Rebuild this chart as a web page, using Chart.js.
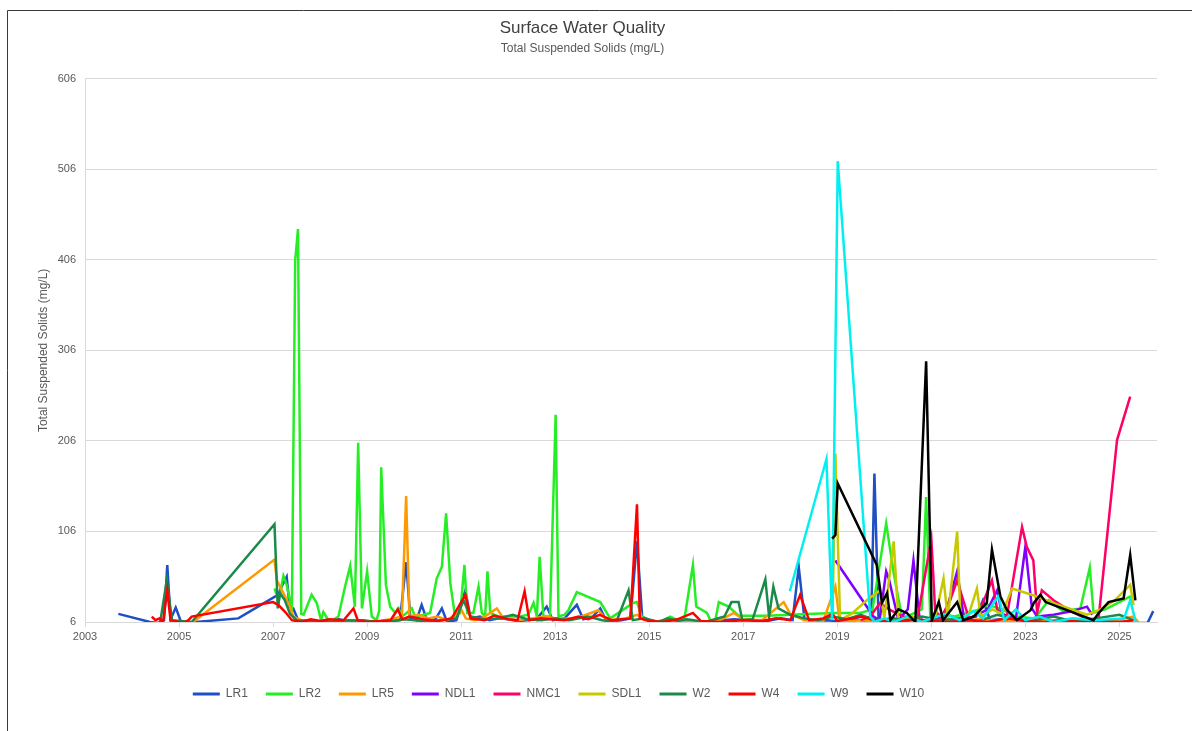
<!DOCTYPE html>
<html>
<head>
<meta charset="utf-8">
<script src="https://cdn.jsdelivr.net/npm/chart.js@4.4.1/dist/chart.umd.min.js"></script>
<style>
  html, body { margin: 0; padding: 0; background: #ffffff; }
  #wrap { width: 1192px; height: 731px; position: relative; }
</style>
</head>
<body>
<div id="wrap"><canvas id="c" width="1192" height="731"></canvas></div>
<script>
// Monitoring sites and their line colours
const seriesNames  = ['LR1', 'LR2', 'LR5', 'NDL1', 'NMC1', 'SDL1', 'W2', 'W4', 'W9', 'W10'];
const seriesColors = ['#1f4fc4', '#25ee25', '#ff9900', '#8000ff', '#ff0066', '#c8c800', '#1a8a4a', '#ff0000', '#00f0f0', '#000000'];

// Axis ticks
const yTicks = [6, 106, 206, 306, 406, 506, 606];
const xTickYears = [2003, 2005, 2007, 2009, 2011, 2013, 2015, 2017, 2019, 2021, 2023, 2025];
const xEnd = 2025.8;

// Samples per site: [decimal year, TSS mg/L]
const lr1 = [[2003.71,15],[2004.38,6],[2004.55,5],[2004.68,8],[2004.75,69],[2004.82,9],[2004.93,22],[2005.05,5],[2005.35,6],[2006.26,10],[2007.04,34],[2007.11,36],[2007.18,45],[2007.29,56],[2007.35,23],[2007.43,21],[2007.55,6],[2007.75,8],[2007.95,6],[2008.15,7],[2008.4,9],[2008.65,6],[2008.9,8],[2009.15,6],[2009.45,7],[2009.7,8],[2009.83,72],[2009.92,10],[2010.05,8],[2010.16,25],[2010.28,7],[2010.45,9],[2010.59,21],[2010.7,6],[2010.9,8],[2011.09,41],[2011.2,10],[2011.4,12],[2011.6,8],[2011.8,10],[2012.0,9],[2012.2,7],[2012.4,8],[2012.6,9],[2012.82,23],[2012.95,8],[2013.2,10],[2013.46,25],[2013.6,9],[2013.8,12],[2013.96,21],[2014.1,6],[2014.4,8],[2014.6,10],[2014.74,95],[2014.85,12],[2015.0,8],[2015.2,6],[2015.45,8],[2015.7,7],[2016.0,6],[2016.4,7],[2016.8,9],[2017.2,8],[2017.5,7],[2017.8,10],[2018.05,8],[2018.18,67],[2018.3,10],[2018.5,7],[2018.8,8],[2019.1,6],[2019.4,9],[2019.72,6],[2019.79,170],[2019.88,6],[2020.1,8],[2020.4,5],[2020.8,7],[2021.2,6],[2021.6,9],[2021.95,12],[2022.1,30],[2022.25,8],[2022.7,10],[2023.2,7],[2023.8,8],[2024.3,6],[2024.8,7],[2025.3,5],[2025.6,5],[2025.72,18]];

const lr2 = [[2007.03,43],[2007.12,30],[2007.22,57],[2007.29,47],[2007.4,20],[2007.47,405],[2007.53,440],[2007.6,15],[2007.65,14],[2007.82,36],[2007.93,27],[2008.02,8],[2008.07,17],[2008.2,6],[2008.39,12],[2008.53,45],[2008.64,68],[2008.74,23],[2008.81,204],[2008.89,21],[2009.0,62],[2009.1,12],[2009.2,8],[2009.26,19],[2009.3,177],[2009.4,47],[2009.49,23],[2009.6,16],[2009.67,21],[2009.74,12],[2009.84,16],[2009.95,21],[2010.02,12],[2010.2,14],[2010.34,16],[2010.48,54],[2010.59,67],[2010.68,126],[2010.77,49],[2010.87,12],[2010.98,16],[2011.07,69],[2011.13,16],[2011.26,16],[2011.37,45],[2011.44,16],[2011.51,12],[2011.56,62],[2011.62,16],[2011.8,12],[2012.04,12],[2012.25,12],[2012.43,14],[2012.54,27],[2012.61,12],[2012.67,78],[2012.75,12],[2012.89,12],[2013.01,235],[2013.07,12],[2013.2,14],[2013.28,19],[2013.46,39],[2013.96,28],[2014.17,10],[2014.66,27],[2014.74,28],[2014.84,12],[2015.09,6],[2015.3,8],[2015.45,12],[2015.6,8],[2015.75,10],[2015.93,69],[2016.0,23],[2016.23,16],[2016.3,8],[2016.4,6],[2016.48,28],[2016.69,23],[2016.9,13],[2017.5,13],[2018.0,14],[2018.5,15],[2018.92,16],[2019.2,16],[2019.49,16],[2019.75,20],[2020.04,115],[2020.2,60],[2020.38,10],[2020.6,15],[2020.8,20],[2020.89,144],[2020.98,8],[2021.2,15],[2021.5,12],[2021.97,19],[2022.2,25],[2022.5,20],[2022.8,12],[2023.2,10],[2023.5,30],[2023.8,18],[2024.17,21],[2024.37,66],[2024.45,16],[2024.7,20],[2025.0,28],[2025.22,34],[2025.3,25]];

const lr5 = [[2005.3,6],[2007.03,75],[2007.08,52],[2007.2,40],[2007.36,23],[2007.43,12],[2007.6,8],[2007.9,7],[2008.3,6],[2008.7,8],[2009.1,6],[2009.5,9],[2009.74,12],[2009.83,145],[2009.9,12],[2010.1,14],[2010.3,10],[2010.5,12],[2010.7,8],[2011.01,19],[2011.1,10],[2011.3,8],[2011.5,12],[2011.76,21],[2011.9,10],[2012.2,8],[2012.5,10],[2012.8,12],[2013.1,9],[2013.5,11],[2013.92,19],[2014.1,8],[2014.5,10],[2014.74,14],[2014.9,9],[2015.2,6],[2015.6,7],[2016.0,6],[2016.5,8],[2016.8,16],[2017.0,9],[2017.4,8],[2017.86,28],[2018.0,15],[2018.3,8],[2018.7,7],[2018.96,45],[2019.05,6],[2019.5,8],[2020.0,6],[2020.5,7],[2021.0,8],[2021.5,6],[2022.0,9],[2022.5,7],[2023.0,6],[2023.5,8],[2024.0,7],[2024.5,6],[2025.0,9],[2025.3,12],[2025.4,6]];

const ndl1 = [[2018.96,74],[2019.77,12],[2019.9,8],[2020.04,62],[2020.1,53],[2020.3,8],[2020.5,20],[2020.62,74],[2020.75,10],[2020.9,6],[2021.1,8],[2021.3,15],[2021.55,62],[2021.7,8],[2021.9,12],[2022.2,20],[2022.4,41],[2022.5,15],[2022.8,10],[2023.0,89],[2023.14,21],[2023.25,12],[2023.6,14],[2024.0,18],[2024.31,23],[2024.42,14]];

const nmc1 = [[2019.5,8],[2019.7,12],[2019.91,27],[2020.1,20],[2020.4,12],[2020.7,8],[2021.0,98],[2021.08,20],[2021.2,10],[2021.4,30],[2021.55,52],[2021.65,35],[2021.8,10],[2022.0,15],[2022.29,52],[2022.4,20],[2022.6,10],[2022.93,111],[2023.03,89],[2023.17,74],[2023.25,16],[2023.35,41],[2023.6,30],[2023.9,20],[2024.2,12],[2024.45,8],[2024.55,6],[2024.95,207],[2025.23,255]];

const sdl1 = [[2018.9,10],[2018.96,192],[2019.06,8],[2019.3,15],[2019.63,30],[2019.91,41],[2020.0,10],[2020.2,95],[2020.3,8],[2020.6,12],[2020.9,6],[2021.1,15],[2021.26,54],[2021.35,10],[2021.55,106],[2021.62,10],[2021.8,15],[2021.97,43],[2022.05,12],[2022.3,20],[2022.5,15],[2022.72,43],[2023.2,35],[2023.7,25],[2024.31,14],[2024.6,20],[2024.9,30],[2025.23,47],[2025.3,25]];

const w2 = [[2004.6,6],[2004.74,52],[2004.85,8],[2005.27,6],[2007.03,114],[2007.1,21],[2007.15,38],[2007.25,30],[2007.36,15],[2007.5,8],[2007.8,7],[2008.2,6],[2008.6,8],[2009.0,7],[2009.4,6],[2009.8,9],[2010.2,7],[2010.6,8],[2010.9,10],[2011.05,30],[2011.2,12],[2011.5,9],[2011.8,10],[2012.1,14],[2012.4,9],[2012.7,8],[2013.0,10],[2013.3,8],[2013.7,12],[2014.0,8],[2014.3,6],[2014.56,41],[2014.65,8],[2014.9,10],[2015.2,6],[2015.4,10],[2015.6,7],[2015.8,9],[2016.2,6],[2016.6,12],[2016.75,28],[2016.9,28],[2016.98,8],[2017.2,9],[2017.47,53],[2017.55,12],[2017.64,45],[2017.75,21],[2018.0,14],[2018.3,10],[2018.6,8],[2018.9,12],[2019.2,9],[2019.5,14],[2019.8,8],[2020.2,10],[2020.5,7],[2020.8,12],[2021.2,8],[2021.6,10],[2022.0,7],[2022.4,14],[2022.8,9],[2023.2,8],[2023.6,12],[2024.0,7],[2024.5,10],[2025.0,14],[2025.3,8]];

const w4 = [[2004.42,12],[2004.5,8],[2004.58,10],[2004.66,6],[2004.75,41],[2004.82,8],[2004.9,7],[2005.1,5],[2005.2,8],[2005.27,12],[2007.0,28],[2007.11,25],[2007.26,17],[2007.4,8],[2007.6,6],[2007.8,9],[2008.0,7],[2008.2,9],[2008.5,8],[2008.71,21],[2008.8,8],[2009.0,6],[2009.3,7],[2009.5,8],[2009.65,20],[2009.75,9],[2009.9,12],[2010.2,9],[2010.5,7],[2010.8,10],[2011.09,36],[2011.2,10],[2011.5,8],[2011.7,13],[2012.0,9],[2012.2,8],[2012.35,40],[2012.45,8],[2012.7,10],[2012.9,9],[2013.2,8],[2013.5,12],[2013.7,9],[2013.95,14],[2014.2,8],[2014.6,10],[2014.74,136],[2014.8,10],[2015.0,7],[2015.3,6],[2015.6,9],[2015.93,16],[2016.1,7],[2016.5,6],[2017.0,8],[2017.4,7],[2017.7,10],[2018.0,8],[2018.21,36],[2018.4,8],[2018.7,10],[2018.9,15],[2019.0,7],[2019.2,9],[2019.5,12],[2019.8,8],[2020.2,6],[2020.6,9],[2021.0,7],[2021.4,6],[2021.8,8],[2022.2,6],[2022.6,10],[2023.0,7],[2023.4,6],[2023.8,8],[2024.2,6],[2024.6,7],[2025.0,6],[2025.3,8]];

const w9 = [[2017.99,40],[2018.77,186],[2018.89,8],[2019.01,515],[2019.7,12],[2019.8,6],[2020.0,10],[2020.2,6],[2020.5,12],[2020.8,6],[2021.0,10],[2021.3,15],[2021.6,8],[2021.9,18],[2022.1,10],[2022.3,25],[2022.43,35],[2022.55,8],[2022.8,20],[2023.0,8],[2023.3,12],[2023.6,6],[2024.0,10],[2024.5,8],[2025.1,10],[2025.23,30],[2025.35,6]];

const w10 = [[2018.89,98],[2018.96,102],[2019.01,159],[2019.84,69],[2019.95,27],[2020.06,38],[2020.13,8],[2020.3,20],[2020.48,16],[2020.66,6],[2020.89,294],[2021.01,8],[2021.16,28],[2021.25,8],[2021.55,28],[2021.68,8],[2021.9,12],[2022.18,27],[2022.29,86],[2022.47,34],[2022.6,20],[2022.82,8],[2023.11,19],[2023.18,27],[2023.32,36],[2023.43,28],[2024.45,8],[2024.56,16],[2024.77,28],[2025.09,32],[2025.23,80],[2025.34,30]];

const seriesData = [lr1, lr2, lr5, ndl1, nmc1, sdl1, w2, w4, w9, w10];

const datasets = seriesNames.map((name, i) => ({
  label: name,
  data: seriesData[i].map(([x, y]) => ({ x, y })),
  borderColor: seriesColors[i],
  backgroundColor: seriesColors[i],
  borderWidth: 2.5,
  pointRadius: 0,
  tension: 0,
  fill: false,
  // later sites are painted over earlier ones
  order: seriesNames.length - i
}));

// White page with a thin frame along the top and left edges
const framePlugin = {
  id: 'frame',
  beforeDraw(chart) {
    const ctx = chart.ctx;
    ctx.save();
    ctx.fillStyle = '#ffffff';
    ctx.fillRect(0, 0, chart.width, chart.height);
    ctx.strokeStyle = '#3a3a3a';
    ctx.lineWidth = 1;
    ctx.beginPath();
    ctx.moveTo(7.5, chart.height);
    ctx.lineTo(7.5, 10.5);
    ctx.lineTo(chart.width, 10.5);
    ctx.stroke();
    ctx.restore();
  }
};

// Legend row sits a little left of the plot centre
const legendShift = {
  id: 'legendShift',
  afterLayout(chart) {
    const lg = chart.legend;
    if (lg) { lg.left -= 24; lg.right -= 24; }
  }
};

const axisFont = { family: "'Liberation Sans', Arial, sans-serif", size: 11 };
const narrowFont = "'Liberation Sans Narrow', 'Liberation Sans', Arial, sans-serif";

new Chart(document.getElementById('c'), {
  type: 'line',
  data: { datasets },
  plugins: [framePlugin, legendShift],
  options: {
    responsive: false,
    animation: false,
    events: [],
    layout: { padding: { left: 8, right: 35, top: 0, bottom: 21 } },
    plugins: {
      title: {
        display: true,
        text: 'Surface Water Quality',
        color: '#404040',
        font: { family: narrowFont, size: 17, weight: 'normal' },
        padding: { top: 18, bottom: 0 }
      },
      subtitle: {
        display: true,
        text: 'Total Suspended Solids (mg/L)',
        color: '#595959',
        font: { family: narrowFont, size: 12, weight: 'normal' },
        padding: { top: 3, bottom: 23 }
      },
      legend: {
        position: 'bottom',
        labels: {
          boxWidth: 27,
          boxHeight: 3,
          padding: 18,
          color: '#595959',
          font: { family: narrowFont, size: 12 },
          sort: (a, b) => a.datasetIndex - b.datasetIndex,
          generateLabels: (chart) =>
            Chart.defaults.plugins.legend.labels.generateLabels(chart)
              .map(l => Object.assign(l, { lineWidth: 0 }))
        }
      },
      tooltip: { enabled: false }
    },
    scales: {
      x: {
        type: 'linear',
        min: xTickYears[0],
        max: xEnd,
        afterBuildTicks: (s) => { s.ticks = xTickYears.map(v => ({ value: v })); },
        afterFit: (s) => { s.height = 48; },
        grid: { display: true, drawOnChartArea: false, drawTicks: true, tickLength: 5, color: '#d9d9d9' },
        border: { display: true, color: '#d9d9d9' },
        ticks: { color: '#595959', font: axisFont, padding: 3, maxRotation: 0, autoSkip: false, callback: (v) => String(v) }
      },
      y: {
        min: yTicks[0],
        max: yTicks[yTicks.length - 1],
        afterBuildTicks: (s) => { s.ticks = yTicks.map(v => ({ value: v })); },
        afterFit: (s) => { s.width = 77; },
        grid: { color: '#d9d9d9', drawTicks: false },
        border: { display: true, color: '#d9d9d9' },
        ticks: { color: '#595959', font: axisFont, padding: 9, callback: (v) => String(v) },
        title: {
          display: true,
          text: 'Total Suspended Solids (mg/L)',
          color: '#595959',
          font: { family: "'Liberation Sans', Arial, sans-serif", size: 12 },
          padding: { top: 28, bottom: 0 }
        }
      }
    }
  }
});
</script>
</body>
</html>
